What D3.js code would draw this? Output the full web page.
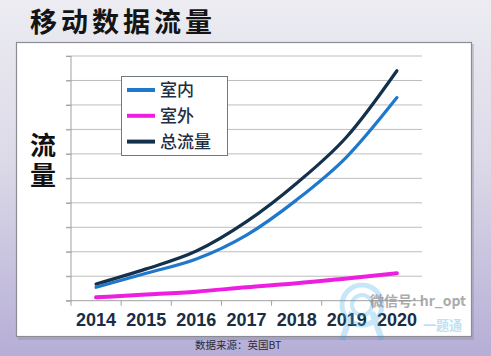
<!DOCTYPE html>
<html><head><meta charset="utf-8">
<script src="https://cdn.jsdelivr.net/npm/d3@7/dist/d3.min.js"></script>
<style>
html,body{margin:0;padding:0;}
body{width:491px;height:356px;overflow:hidden;}
svg{display:block;}
</style></head>
<body><svg id="c" width="491" height="356"></svg>
<script>
const years = ["2014","2015","2016","2017","2018","2019","2020"];
const indoor  = [0.55, 1.12, 1.70, 2.68, 4.12, 5.88, 8.30];
const outdoor = [0.14, 0.25, 0.37, 0.55, 0.71, 0.91, 1.12];
const total   = [0.68, 1.30, 2.03, 3.23, 4.80, 6.70, 9.40];
const yTicks  = [0,1,2,3,4,5,6,7,8,9,10];
const seriesNames = ["室内","室外","总流量"];
const colors = ["#1e78cc","#ee1ee0","#13304c"];

const svg = d3.select("#c");
const defs = svg.append("defs");
const bg = defs.append("linearGradient").attr("id","bg").attr("x1",0).attr("y1",0).attr("x2",0).attr("y2",1);
bg.append("stop").attr("offset","0%").attr("stop-color","#ececf2");
bg.append("stop").attr("offset","45%").attr("stop-color","#dcdae8");
bg.append("stop").attr("offset","100%").attr("stop-color","#b6aed6");
svg.append("rect").attr("width",491).attr("height",356).attr("fill","url(#bg)");

// title
svg.append("text").attr("x",30).attr("y",32)
  .attr("font-family","'Noto Sans CJK SC'").attr("font-weight","bold")
  .attr("font-size",27).attr("letter-spacing",4).attr("fill","#141414").text("移动数据流量");

// panel
svg.append("rect").attr("x",18).attr("y",44).attr("width",456).attr("height",296).attr("fill","#8a86a0").attr("opacity",0.35);
svg.append("rect").attr("x",16.5).attr("y",42.5).attr("width",455).attr("height",294)
  .attr("fill","#ffffff").attr("stroke","#8c8c94").attr("stroke-width",1.2);

const x = d3.scaleBand().domain(years).range([71,422]);
const y = d3.scaleLinear().domain([0,10]).range([300.7,56]);

// gridlines
svg.append("g").selectAll("line").data(yTicks.slice(1)).join("line")
  .attr("x1",66).attr("x2",422).attr("y1",d=>y(d)).attr("y2",d=>y(d))
  .attr("stroke","#bdbdbd").attr("stroke-width",1);

// axes
const xAxis = svg.append("g").attr("transform",`translate(0,${y(0)})`)
  .call(d3.axisBottom(x).tickSize(0).tickPadding(13));
xAxis.select(".domain").attr("stroke","#a0a0a0").attr("d",`M66,0H422`);
xAxis.selectAll("text").attr("font-family","'Liberation Sans', Arial").attr("font-weight","bold")
  .attr("font-size",18).attr("fill","#1a2d46");
// tick marks between categories
svg.append("g").selectAll("line").data(d3.range(years.length)).join("line")
  .attr("x1",(d)=>71+d*x.step()).attr("x2",(d)=>71+d*x.step())
  .attr("y1",y(0)).attr("y2",y(0)+5).attr("stroke","#a0a0a0");
svg.append("line").attr("x1",71).attr("x2",71).attr("y1",y(10)).attr("y2",y(0)).attr("stroke","#a0a0a0");
svg.append("g").attr("transform","translate(71,0)")
  .call(d3.axisLeft(y).tickValues(yTicks).tickSize(5).tickFormat(""))
  .call(g=>{g.select(".domain").remove();g.selectAll("line").attr("stroke","#a0a0a0");});

// y label (vertical)
svg.append("text").attr("x",43).attr("y",132)
  .attr("style","writing-mode: vertical-rl; text-orientation: upright;")
  .attr("font-family","'Noto Sans CJK SC'").attr("font-weight","bold").attr("font-size",26)
  .attr("letter-spacing",4).attr("fill","#111").text("流量");

// lines
const line = d3.line().x((d,i)=>x(years[i])+x.bandwidth()/2).y(d=>y(d)).curve(d3.curveMonotoneX);
const data = [indoor, outdoor, total];
const widths = [3.2, 4, 3.2];
[1,0,2].forEach(k=>{
  svg.append("path").attr("d",line(data[k])).attr("fill","none")
    .attr("stroke",colors[k]).attr("stroke-width",widths[k]).attr("stroke-linecap","round");
});

// legend
svg.append("rect").attr("x",121.5).attr("y",76.5).attr("width",106).attr("height",79)
  .attr("fill","#fff").attr("stroke","#707880").attr("stroke-width",1);
const lg = svg.append("g").selectAll("g").data(seriesNames).join("g")
  .attr("transform",(d,i)=>`translate(0,${90+i*25.8})`);
lg.append("line").attr("x1",127).attr("x2",155).attr("y1",0).attr("y2",0)
  .attr("stroke",(d,i)=>colors[i]).attr("stroke-width",4);
lg.append("text").attr("x",160).attr("y",6).attr("font-family","'Noto Sans CJK SC'")
  .attr("font-weight","500").attr("font-size",17).attr("fill","#1e2e44").text(d=>d);

// watermark
const wm = svg.append("g").attr("opacity",0.28);
wm.append("circle").attr("cx",362).attr("cy",305).attr("r",20).attr("fill","none").attr("stroke","#3aa8e8").attr("stroke-width",5);
wm.append("circle").attr("cx",362).attr("cy",305).attr("r",10).attr("fill","none").attr("stroke","#3aa8e8").attr("stroke-width",4);
wm.append("path").attr("d","M352,312 L342,340 M372,312 L382,340").attr("stroke","#3aa8e8").attr("stroke-width",6);
svg.append("text").attr("x",370).attr("y",306).attr("font-family","'Noto Sans CJK SC'").attr("font-weight","bold")
  .attr("font-size",14).attr("fill","#909090").attr("opacity",0.75).text("微信号: hr_opt");
svg.append("text").attr("x",423).attr("y",330).attr("font-family","'Noto Sans CJK SC'").attr("font-weight","bold")
  .attr("font-size",13).attr("fill","#7cc4ee").attr("opacity",0.5).text("一题通");

// source
svg.append("text").attr("x",195).attr("y",349).attr("font-family","'Noto Sans CJK SC'")
  .attr("font-size",10.5).attr("fill","#2a2a38").text("数据来源：英国BT");
</script></body></html>
